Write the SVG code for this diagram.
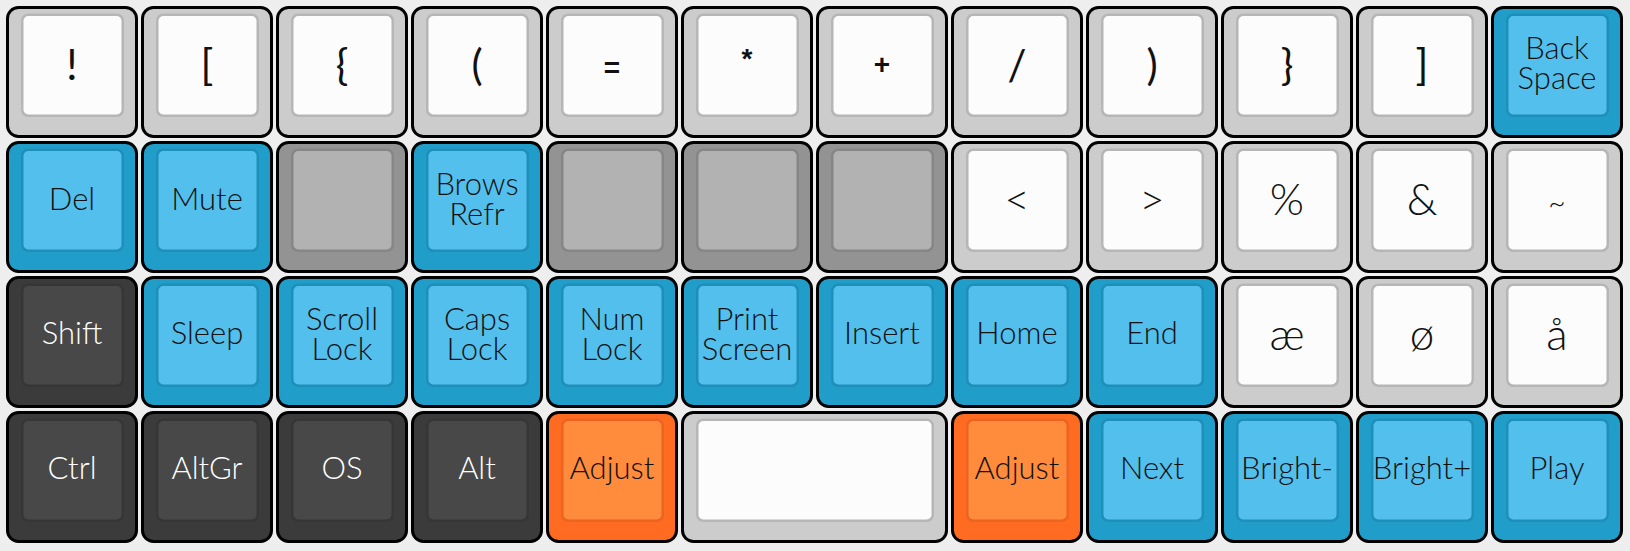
<svg xmlns="http://www.w3.org/2000/svg" width="1630" height="551" viewBox="0 0 1630 551">
<style>
.bg{fill:#eeeeee}
.o{stroke:#000;stroke-width:3}
.i{stroke-width:2.5}
.lt .o{fill:#cccccc}.lt .i{fill:#fcfcfc;stroke:#b6b6b6}
.bl .o{fill:#209dc8}.bl .i{fill:#53bfec;stroke:#1e8fbb}
.gr .o{fill:#939393}.gr .i{fill:#b2b2b2;stroke:#868686}
.dk .o{fill:#3b3b3b}.dk .i{fill:#484848;stroke:#363636}
.or .o{fill:#fe6b21}.or .i{fill:#ff8b3d;stroke:#ec6322}
.t{font-family:Lato,"Open Sans",sans-serif;font-weight:300;font-size:31px;text-anchor:middle;fill:#111}
.dk .t{fill:#ffffff}
.sym{font-size:44px}
.s1{font-size:42px;font-weight:400}
.sb{font-family:"Liberation Sans",Arial,sans-serif;font-weight:bold;font-size:28px}
.tl{font-size:30px}
</style>
<rect class="bg" x="0" y="0" width="1630" height="551"/>
<!-- Row 0 -->
<g id="k-0-0" class="lt" transform="translate(6,6)"><rect class="o" x="1.5" y="1.5" width="129" height="129" rx="11"/><rect class="i" x="16.25" y="8.75" width="100.5" height="101" rx="6"/><text class="t s1" x="66" y="74">!</text></g>
<g id="k-0-1" class="lt" transform="translate(141,6)"><rect class="o" x="1.5" y="1.5" width="129" height="129" rx="11"/><rect class="i" x="16.25" y="8.75" width="100.5" height="101" rx="6"/><text class="t s1" x="66" y="74">[</text></g>
<g id="k-0-2" class="lt" transform="translate(276,6)"><rect class="o" x="1.5" y="1.5" width="129" height="129" rx="11"/><rect class="i" x="16.25" y="8.75" width="100.5" height="101" rx="6"/><text class="t s1" x="66" y="74">{</text></g>
<g id="k-0-3" class="lt" transform="translate(411,6)"><rect class="o" x="1.5" y="1.5" width="129" height="129" rx="11"/><rect class="i" x="16.25" y="8.75" width="100.5" height="101" rx="6"/><text class="t s1" x="66" y="74">(</text></g>
<g id="k-0-4" class="lt" transform="translate(546,6)"><rect class="o" x="1.5" y="1.5" width="129" height="129" rx="11"/><rect class="i" x="16.25" y="8.75" width="100.5" height="101" rx="6"/><text class="t sb" x="66" y="71">=</text></g>
<g id="k-0-5" class="lt" transform="translate(681,6)"><rect class="o" x="1.5" y="1.5" width="129" height="129" rx="11"/><rect class="i" x="16.25" y="8.75" width="100.5" height="101" rx="6"/><text class="t sb" x="66" y="62">*</text></g>
<g id="k-0-6" class="lt" transform="translate(816,6)"><rect class="o" x="1.5" y="1.5" width="129" height="129" rx="11"/><rect class="i" x="16.25" y="8.75" width="100.5" height="101" rx="6"/><text class="t sb" x="66" y="68">+</text></g>
<g id="k-0-7" class="lt" transform="translate(951,6)"><rect class="o" x="1.5" y="1.5" width="129" height="129" rx="11"/><rect class="i" x="16.25" y="8.75" width="100.5" height="101" rx="6"/><text class="t s1" x="66" y="74">/</text></g>
<g id="k-0-8" class="lt" transform="translate(1086,6)"><rect class="o" x="1.5" y="1.5" width="129" height="129" rx="11"/><rect class="i" x="16.25" y="8.75" width="100.5" height="101" rx="6"/><text class="t s1" x="66" y="74">)</text></g>
<g id="k-0-9" class="lt" transform="translate(1221,6)"><rect class="o" x="1.5" y="1.5" width="129" height="129" rx="11"/><rect class="i" x="16.25" y="8.75" width="100.5" height="101" rx="6"/><text class="t s1" x="66" y="74">}</text></g>
<g id="k-0-10" class="lt" transform="translate(1356,6)"><rect class="o" x="1.5" y="1.5" width="129" height="129" rx="11"/><rect class="i" x="16.25" y="8.75" width="100.5" height="101" rx="6"/><text class="t s1" x="66" y="74">]</text></g>
<g id="k-0-11" class="bl" transform="translate(1491,6)"><rect class="o" x="1.5" y="1.5" width="129" height="129" rx="11"/><rect class="i" x="16.25" y="8.75" width="100.5" height="101" rx="6"/><text class="t" x="66" y="53">Back<tspan x="66" dy="30">Space</tspan></text></g>
<!-- Row 1 -->
<g id="k-1-0" class="bl" transform="translate(6,141)"><rect class="o" x="1.5" y="1.5" width="129" height="129" rx="11"/><rect class="i" x="16.25" y="8.75" width="100.5" height="101" rx="6"/><text class="t" x="66" y="69">Del</text></g>
<g id="k-1-1" class="bl" transform="translate(141,141)"><rect class="o" x="1.5" y="1.5" width="129" height="129" rx="11"/><rect class="i" x="16.25" y="8.75" width="100.5" height="101" rx="6"/><text class="t" x="66" y="69">Mute</text></g>
<g id="k-1-2" class="gr" transform="translate(276,141)"><rect class="o" x="1.5" y="1.5" width="129" height="129" rx="11"/><rect class="i" x="16.25" y="8.75" width="100.5" height="101" rx="6"/></g>
<g id="k-1-3" class="bl" transform="translate(411,141)"><rect class="o" x="1.5" y="1.5" width="129" height="129" rx="11"/><rect class="i" x="16.25" y="8.75" width="100.5" height="101" rx="6"/><text class="t" x="66" y="54">Brows<tspan x="66" dy="30">Refr</tspan></text></g>
<g id="k-1-4" class="gr" transform="translate(546,141)"><rect class="o" x="1.5" y="1.5" width="129" height="129" rx="11"/><rect class="i" x="16.25" y="8.75" width="100.5" height="101" rx="6"/></g>
<g id="k-1-5" class="gr" transform="translate(681,141)"><rect class="o" x="1.5" y="1.5" width="129" height="129" rx="11"/><rect class="i" x="16.25" y="8.75" width="100.5" height="101" rx="6"/></g>
<g id="k-1-6" class="gr" transform="translate(816,141)"><rect class="o" x="1.5" y="1.5" width="129" height="129" rx="11"/><rect class="i" x="16.25" y="8.75" width="100.5" height="101" rx="6"/></g>
<g id="k-1-7" class="lt" transform="translate(951,141)"><rect class="o" x="1.5" y="1.5" width="129" height="129" rx="11"/><rect class="i" x="16.25" y="8.75" width="100.5" height="101" rx="6"/><text class="t sym" x="66" y="74">&lt;</text></g>
<g id="k-1-8" class="lt" transform="translate(1086,141)"><rect class="o" x="1.5" y="1.5" width="129" height="129" rx="11"/><rect class="i" x="16.25" y="8.75" width="100.5" height="101" rx="6"/><text class="t sym" x="66" y="74">&gt;</text></g>
<g id="k-1-9" class="lt" transform="translate(1221,141)"><rect class="o" x="1.5" y="1.5" width="129" height="129" rx="11"/><rect class="i" x="16.25" y="8.75" width="100.5" height="101" rx="6"/><text class="t sym" x="66" y="74">%</text></g>
<g id="k-1-10" class="lt" transform="translate(1356,141)"><rect class="o" x="1.5" y="1.5" width="129" height="129" rx="11"/><rect class="i" x="16.25" y="8.75" width="100.5" height="101" rx="6"/><text class="t sym" x="66" y="74">&amp;</text></g>
<g id="k-1-11" class="lt" transform="translate(1491,141)"><rect class="o" x="1.5" y="1.5" width="129" height="129" rx="11"/><rect class="i" x="16.25" y="8.75" width="100.5" height="101" rx="6"/><text class="t tl" x="66" y="72">~</text></g>
<!-- Row 2 -->
<g id="k-2-0" class="dk" transform="translate(6,276)"><rect class="o" x="1.5" y="1.5" width="129" height="129" rx="11"/><rect class="i" x="16.25" y="8.75" width="100.5" height="101" rx="6"/><text class="t" x="66" y="68">Shift</text></g>
<g id="k-2-1" class="bl" transform="translate(141,276)"><rect class="o" x="1.5" y="1.5" width="129" height="129" rx="11"/><rect class="i" x="16.25" y="8.75" width="100.5" height="101" rx="6"/><text class="t" x="66" y="68">Sleep</text></g>
<g id="k-2-2" class="bl" transform="translate(276,276)"><rect class="o" x="1.5" y="1.5" width="129" height="129" rx="11"/><rect class="i" x="16.25" y="8.75" width="100.5" height="101" rx="6"/><text class="t" x="66" y="54">Scroll<tspan x="66" dy="30">Lock</tspan></text></g>
<g id="k-2-3" class="bl" transform="translate(411,276)"><rect class="o" x="1.5" y="1.5" width="129" height="129" rx="11"/><rect class="i" x="16.25" y="8.75" width="100.5" height="101" rx="6"/><text class="t" x="66" y="54">Caps<tspan x="66" dy="30">Lock</tspan></text></g>
<g id="k-2-4" class="bl" transform="translate(546,276)"><rect class="o" x="1.5" y="1.5" width="129" height="129" rx="11"/><rect class="i" x="16.25" y="8.75" width="100.5" height="101" rx="6"/><text class="t" x="66" y="54">Num<tspan x="66" dy="30">Lock</tspan></text></g>
<g id="k-2-5" class="bl" transform="translate(681,276)"><rect class="o" x="1.5" y="1.5" width="129" height="129" rx="11"/><rect class="i" x="16.25" y="8.75" width="100.5" height="101" rx="6"/><text class="t" x="66" y="54">Print<tspan x="66" dy="30">Screen</tspan></text></g>
<g id="k-2-6" class="bl" transform="translate(816,276)"><rect class="o" x="1.5" y="1.5" width="129" height="129" rx="11"/><rect class="i" x="16.25" y="8.75" width="100.5" height="101" rx="6"/><text class="t" x="66" y="68">Insert</text></g>
<g id="k-2-7" class="bl" transform="translate(951,276)"><rect class="o" x="1.5" y="1.5" width="129" height="129" rx="11"/><rect class="i" x="16.25" y="8.75" width="100.5" height="101" rx="6"/><text class="t" x="66" y="68">Home</text></g>
<g id="k-2-8" class="bl" transform="translate(1086,276)"><rect class="o" x="1.5" y="1.5" width="129" height="129" rx="11"/><rect class="i" x="16.25" y="8.75" width="100.5" height="101" rx="6"/><text class="t" x="66" y="68">End</text></g>
<g id="k-2-9" class="lt" transform="translate(1221,276)"><rect class="o" x="1.5" y="1.5" width="129" height="129" rx="11"/><rect class="i" x="16.25" y="8.75" width="100.5" height="101" rx="6"/><text class="t sym" x="66" y="74">æ</text></g>
<g id="k-2-10" class="lt" transform="translate(1356,276)"><rect class="o" x="1.5" y="1.5" width="129" height="129" rx="11"/><rect class="i" x="16.25" y="8.75" width="100.5" height="101" rx="6"/><text class="t sym" x="66" y="74">ø</text></g>
<g id="k-2-11" class="lt" transform="translate(1491,276)"><rect class="o" x="1.5" y="1.5" width="129" height="129" rx="11"/><rect class="i" x="16.25" y="8.75" width="100.5" height="101" rx="6"/><text class="t sym" x="66" y="74">å</text></g>
<!-- Row 3 -->
<g id="k-3-0" class="dk" transform="translate(6,411)"><rect class="o" x="1.5" y="1.5" width="129" height="129" rx="11"/><rect class="i" x="16.25" y="8.75" width="100.5" height="101" rx="6"/><text class="t" x="66" y="68">Ctrl</text></g>
<g id="k-3-1" class="dk" transform="translate(141,411)"><rect class="o" x="1.5" y="1.5" width="129" height="129" rx="11"/><rect class="i" x="16.25" y="8.75" width="100.5" height="101" rx="6"/><text class="t" x="66" y="68">AltGr</text></g>
<g id="k-3-2" class="dk" transform="translate(276,411)"><rect class="o" x="1.5" y="1.5" width="129" height="129" rx="11"/><rect class="i" x="16.25" y="8.75" width="100.5" height="101" rx="6"/><text class="t" x="66" y="68">OS</text></g>
<g id="k-3-3" class="dk" transform="translate(411,411)"><rect class="o" x="1.5" y="1.5" width="129" height="129" rx="11"/><rect class="i" x="16.25" y="8.75" width="100.5" height="101" rx="6"/><text class="t" x="66" y="68">Alt</text></g>
<g id="k-3-4" class="or" transform="translate(546,411)"><rect class="o" x="1.5" y="1.5" width="129" height="129" rx="11"/><rect class="i" x="16.25" y="8.75" width="100.5" height="101" rx="6"/><text class="t" x="66" y="68">Adjust</text></g>
<g id="k-3-5" class="lt" transform="translate(681,411)"><rect class="o" x="1.5" y="1.5" width="264" height="129" rx="11"/><rect class="i" x="16.25" y="8.75" width="235.5" height="101" rx="6"/></g>
<g id="k-3-7" class="or" transform="translate(951,411)"><rect class="o" x="1.5" y="1.5" width="129" height="129" rx="11"/><rect class="i" x="16.25" y="8.75" width="100.5" height="101" rx="6"/><text class="t" x="66" y="68">Adjust</text></g>
<g id="k-3-8" class="bl" transform="translate(1086,411)"><rect class="o" x="1.5" y="1.5" width="129" height="129" rx="11"/><rect class="i" x="16.25" y="8.75" width="100.5" height="101" rx="6"/><text class="t" x="66" y="68">Next</text></g>
<g id="k-3-9" class="bl" transform="translate(1221,411)"><rect class="o" x="1.5" y="1.5" width="129" height="129" rx="11"/><rect class="i" x="16.25" y="8.75" width="100.5" height="101" rx="6"/><text class="t" x="66" y="68">Bright-</text></g>
<g id="k-3-10" class="bl" transform="translate(1356,411)"><rect class="o" x="1.5" y="1.5" width="129" height="129" rx="11"/><rect class="i" x="16.25" y="8.75" width="100.5" height="101" rx="6"/><text class="t" x="66" y="68">Bright+</text></g>
<g id="k-3-11" class="bl" transform="translate(1491,411)"><rect class="o" x="1.5" y="1.5" width="129" height="129" rx="11"/><rect class="i" x="16.25" y="8.75" width="100.5" height="101" rx="6"/><text class="t" x="66" y="68">Play</text></g>
<g id="connectors"/>
</svg>
